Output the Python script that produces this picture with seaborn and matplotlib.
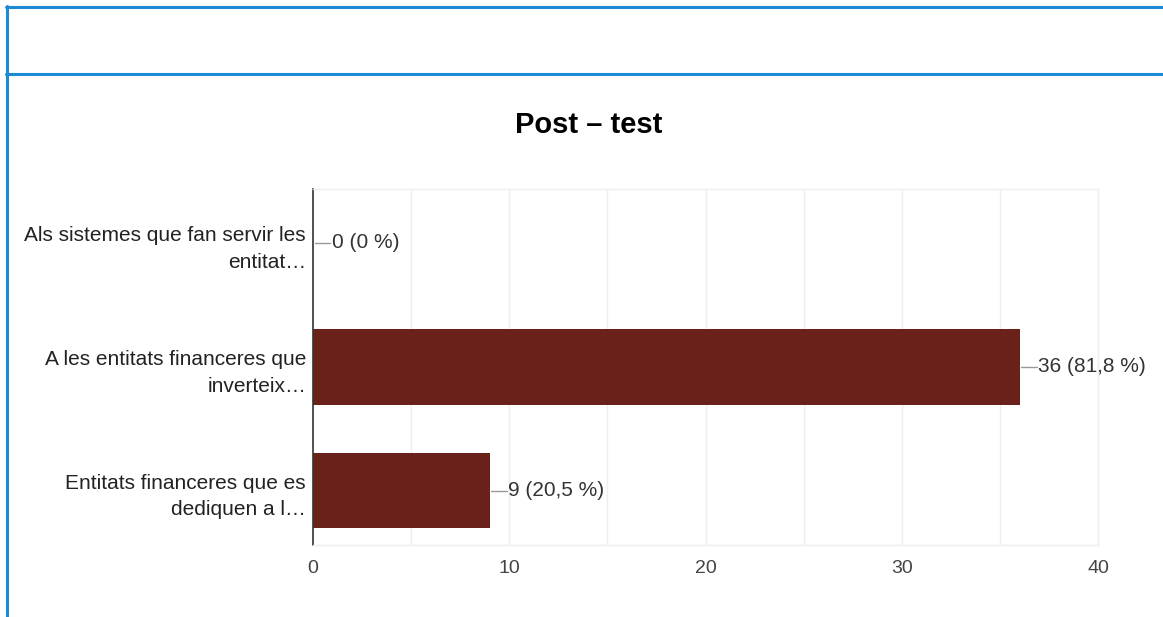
import matplotlib
matplotlib.use("Agg")
import matplotlib.pyplot as plt
import seaborn as sns
import pandas as pd
from matplotlib.lines import Line2D
from matplotlib.ticker import MultipleLocator

categories = ["Als sistemes que fan servir les\nentitat…",
              "A les entitats financeres que\ninverteix…",
              "Entitats financeres que es\ndediquen a l…"]
values = [0, 36, 9]
percents = ["0 %", "81,8 %", "20,5 %"]
x_ticks = [0, 10, 20, 30, 40]
title = "Post – test"

sns.set_theme(style="white")
plt.rcParams['font.family'] = ['Liberation Sans', 'DejaVu Sans']

W, H = 1163, 617
fig = plt.figure(figsize=(W / 100, H / 100), dpi=100)
ax = fig.add_axes([313 / W, 1 - 544.5 / H, (1098 - 313) / W, (544.5 - 189) / H])

df = pd.DataFrame({"cat": categories, "val": values})
sns.barplot(data=df, x="val", y="cat", orient="h", color="#6a2119",
            width=0.61, ax=ax, saturation=1, linewidth=0)

ax.set_xlim(0, 40)
ax.set_xticks(x_ticks)
ax.xaxis.set_minor_locator(MultipleLocator(5))
ax.grid(axis="x", which="both", color="#eeeeee", linewidth=1)
ax.set_axisbelow(True)
ax.set_xlabel("")
ax.set_ylabel("")
for s in ["top", "right", "bottom"]:
    ax.spines[s].set_color("#eeeeee")
    ax.spines[s].set_linewidth(1)
ax.spines["left"].set_color("#333333")
ax.spines["left"].set_linewidth(1.2)
ax.tick_params(axis="both", which="both", length=0)
ax.tick_params(axis="x", pad=11, labelsize=14, labelcolor="#444444")
ax.tick_params(axis="y", pad=5, labelsize=15, labelcolor="#222222")
for lab in ax.get_yticklabels():
    lab.set_horizontalalignment("right")
    lab.set_multialignment("right")
    lab.set_linespacing(1.52)

# value annotations with leader lines
px_per_unit = (1098 - 313) / 40.0
for i, (v, p) in enumerate(zip(values, percents)):
    x0 = v + 1.5 / px_per_unit
    x1 = v + 17 / px_per_unit
    ax.plot([x0, x1], [i, i], color="#999999", linewidth=1, clip_on=False)
    ax.text(v + 18.5 / px_per_unit, i, f"{v} ({p})", va="center", ha="left",
            fontsize=15, color="#333333", clip_on=False)

fig.text(589 / W, 1 - 125 / H, title, ha="center", va="center",
         fontsize=21, fontweight="bold", color="#000000")

# blue frame lines
blue = "#1b8bd6"
def hline(y, x0, x1):
    fig.add_artist(Line2D([x0 / W, x1 / W], [1 - y / H, 1 - y / H],
                          color=blue, linewidth=2.2, transform=fig.transFigure))
def vline(x, y0, y1):
    fig.add_artist(Line2D([x / W, x / W], [1 - y0 / H, 1 - y1 / H],
                          color=blue, linewidth=2.2, transform=fig.transFigure))
hline(7, 6, W)
hline(73.5, 6, W)
vline(7, 6, H)

fig.savefig("out.png", dpi=100)
